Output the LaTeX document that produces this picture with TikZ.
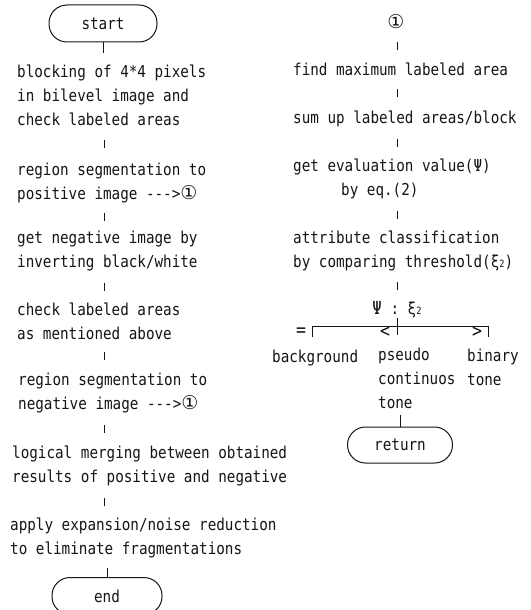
\documentclass[tikz,border=0pt]{standalone}
\usepackage{fontspec}
\usetikzlibrary{calc}
\newfontfamily\flowfont[FakeStretch=0.87]{DejaVu Sans Mono}
\newfontfamily\markfont{DejaVu Sans}
\newcommand{\circone}{{\markfont\fontsize{19}{19}\selectfont ①}}
\newcommand{\subtwo}{{\fontsize{10}{10}\selectfont 2}}
\definecolor{FlowInk}{HTML}{151515}
\definecolor{FlowPaper}{HTML}{FFFFFF}
\tikzset{
  every node/.style={font=\flowfont\fontsize{16.4}{23.8}\selectfont, text=FlowInk, inner sep=0pt},
  terminal/.style={draw=FlowInk, line width=1pt, rounded corners=18pt, minimum width=108pt, minimum height=37pt},
  block/.style={align=left, anchor=base west},
  relation/.style={font=\flowfont\fontsize{19}{19}\selectfont},
  link/.style={draw=FlowInk, line width=1pt},
  tickmark/.style={draw=FlowInk, line width=1pt},
}

\begin{document}
\begin{tikzpicture}[x=1pt,y=-1pt]
  \useasboundingbox[fill=FlowPaper] (0,0) rectangle (530,610);
  % Left column: main flow (blocks placed at the baseline of their last line)
  \coordinate (lspine) at (104,0);
  \node[terminal] (start) at (103,23.5) {start};
  \node[block] (blocking) at (17,125) {blocking of 4*4 pixels\\in bilevel image and\\check labeled areas};
  \node[block] (possegm) at (17,199) {region segmentation to\\positive image -{}-{}->\circone};
  \node[block] (negimg) at (17,267) {get negative image by\\inverting black/white};
  \node[block] (negcheck) at (17,339) {check labeled areas\\as mentioned above};
  \node[block] (negsegm) at (18,409) {region segmentation to\\negative image -{}-{}->\circone};
  \node[block] (merging) at (12,482) {logical merging between obtained\\results of positive and negative};
  \node[block] (cleanup) at (10,554) {apply expansion/noise reduction\\to eliminate fragmentations};
  \node[terminal, minimum width=110pt] (finish) at (107,596) {end};
  \draw[link, shorten >=12pt] (start.south) -- (start.south |- blocking.north);
  \foreach \a/\b in {blocking/possegm, possegm/negimg, negimg/negcheck, negcheck/negsegm, negsegm/merging, merging/cleanup}
    \draw[tickmark] ($(\a.south -| lspine)!.5!(\b.north -| lspine)$) +(0,-4) -- +(0,4);
  \draw[link, shorten <=10pt] (cleanup.south -| finish) -- (finish.north);
  % Right column: attribute classification
  \coordinate (rspine) at (397,0);
  \node (entry) at (396,22) {\circone};
  \node[block] (maxarea) at (293,75) {find maximum labeled area};
  \node[block] (sumarea) at (293,123) {sum up labeled areas/block};
  \node[block] (evalval) at (293,195) {get evaluation value(Ψ)\\\hspace*{48pt}by eq.(2)};
  \node[block] (classify) at (293,267) {attribute classification\\by comparing threshold(ξ\subtwo)};
  \node (compare) at (397,310) {{\fontsize{18}{18}\selectfont Ψ} : ξ\subtwo};
  \foreach \a/\b in {entry/maxarea, maxarea/sumarea, sumarea/evalval, evalval/classify, classify/compare}
    \draw[tickmark] ($(\a.south -| rspine)!.5!(\b.north -| rspine)$) +(0,-4) -- +(0,4);
  % Three-way branch
  \coordinate (brL) at (312,326);
  \coordinate (brR) at (488,326);
  \draw[link] ([yshift=-11pt]brL) -- (brL) -- (brR) -- ([yshift=-11pt]brR);
  \draw[link] (compare.south) -- ($(brL -| compare)+(0,9)$);
  \node[relation] (releq) at (301,332) {=};
  \node[relation] (rellt) at (385,332) {<};
  \node[relation] (relgt) at (477,332) {>};
  \node[block] (bg) at (272,362) {background};
  \node[block] (pseudo) at (378,408) {pseudo\\continuos\\tone};
  \node[block] (binary) at (467,385) {binary\\tone};
  \node[terminal, minimum width=105pt, minimum height=36pt] (ret) at (400,445) {return};
  \draw[link, shorten <=7pt] (pseudo.south -| ret) -- (ret.north);
\end{tikzpicture}
\end{document}
